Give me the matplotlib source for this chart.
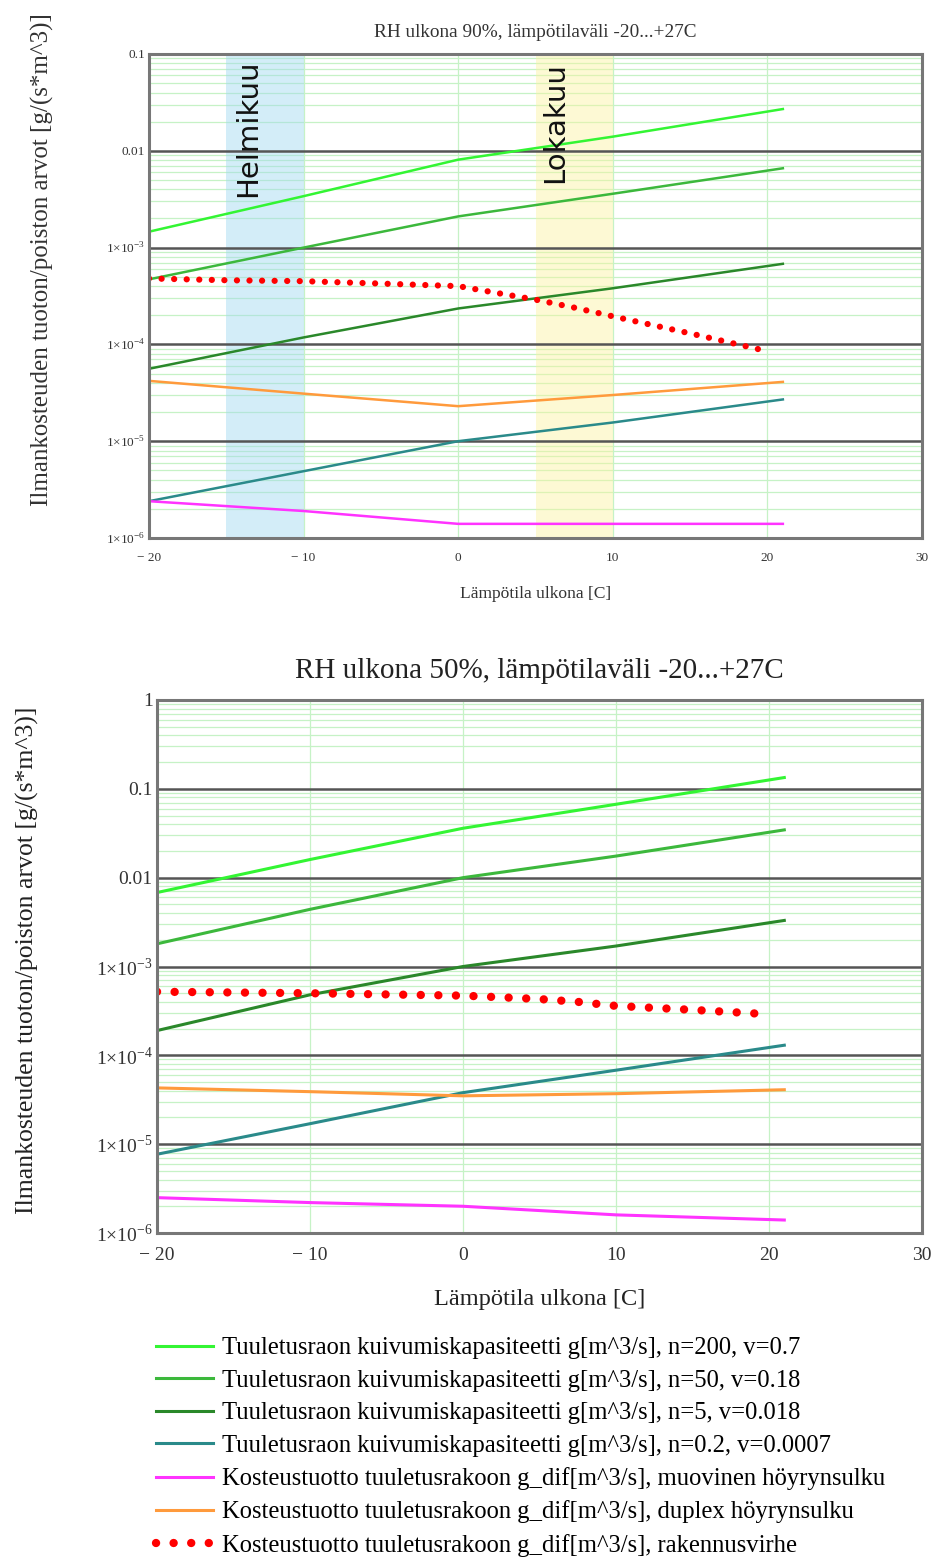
import numpy as np
import matplotlib
matplotlib.use("Agg")
import matplotlib.pyplot as plt
from matplotlib.ticker import LogLocator, NullFormatter

plt.rcParams['font.family'] = ['Liberation Serif', 'DejaVu Serif']
plt.rcParams['mathtext.fontset'] = 'custom'
plt.rcParams['mathtext.rm'] = 'Liberation Serif'

# x-values (outdoor temperature, C)
temps = [-20, -10, 0, 10, 21]
red_temps = [-20, -15, -10, -5, 0, 2.5, 5, 7.5, 10, 15, 20]

# RH 90 %
top_n200 = [1.46e-3, 3.4e-3, 8.1e-3, 1.4e-2, 2.7e-2]
top_n50 = [4.7e-4, 1.0e-3, 2.1e-3, 3.6e-3, 6.6e-3]
top_n5 = [5.6e-5, 1.18e-4, 2.35e-4, 3.8e-4, 6.8e-4]
top_n02 = [2.4e-6, 4.9e-6, 1.0e-5, 1.56e-5, 2.7e-5]
top_muovi = [2.4e-6, 1.9e-6, 1.4e-6, 1.4e-6, 1.4e-6]
top_duplex = [4.2e-5, 3.1e-5, 2.3e-5, 3.0e-5, 4.1e-5]
top_virhe = [4.8e-4, 4.6e-4, 4.5e-4, 4.25e-4, 4.0e-4, 3.4e-4, 2.9e-4, 2.4e-4, 1.95e-4, 1.3e-4, 8.5e-5]

# RH 50 %
bot_n200 = [6.8e-3, 1.6e-2, 3.6e-2, 6.7e-2, 0.134]
bot_n50 = [1.8e-3, 4.4e-3, 1.0e-2, 1.75e-2, 3.45e-2]
bot_n5 = [1.9e-4, 4.8e-4, 1.0e-3, 1.7e-3, 3.3e-3]
bot_n02 = [7.7e-6, 1.7e-5, 3.8e-5, 6.8e-5, 1.3e-4]
bot_muovi = [2.5e-6, 2.2e-6, 2.0e-6, 1.6e-6, 1.4e-6]
bot_duplex = [4.3e-5, 3.9e-5, 3.5e-5, 3.7e-5, 4.1e-5]
bot_virhe = [5.2e-4, 5.1e-4, 5.0e-4, 4.85e-4, 4.7e-4, 4.5e-4, 4.3e-4, 4.0e-4, 3.6e-4, 3.25e-4, 2.9e-4]

labels = [
    'Tuuletusraon kuivumiskapasiteetti g[m^3/s], n=200, v=0.7',
    'Tuuletusraon kuivumiskapasiteetti g[m^3/s], n=50, v=0.18',
    'Tuuletusraon kuivumiskapasiteetti g[m^3/s], n=5, v=0.018',
    'Tuuletusraon kuivumiskapasiteetti g[m^3/s], n=0.2, v=0.0007',
    'Kosteustuotto tuuletusrakoon g_dif[m^3/s], muovinen höyrynsulku',
    'Kosteustuotto tuuletusrakoon g_dif[m^3/s], duplex höyrynsulku',
    'Kosteustuotto tuuletusrakoon g_dif[m^3/s], rakennusvirhe',
]
colors = ['#33f533', '#3cb83c', '#2a882a', '#2a8a8a', '#ff33ff', '#ff9a3c']

x_ticks = [-20, -10, 0, 10, 20, 30]
x_ticklabels = ['\u2212 20', '\u2212 10', '0', '10', '20', '30']
top_yticks = [1e-6, 1e-5, 1e-4, 1e-3, 0.01, 0.1]
top_yticklabels = [r'1$\times$10$^{-6}$', r'1$\times$10$^{-5}$', r'1$\times$10$^{-4}$',
                   r'1$\times$10$^{-3}$', '0.01', '0.1']
bot_yticks = [1e-6, 1e-5, 1e-4, 1e-3, 0.01, 0.1, 1]
bot_yticklabels = [r'1$\times$10$^{-6}$', r'1$\times$10$^{-5}$', r'1$\times$10$^{-4}$',
                   r'1$\times$10$^{-3}$', '0.01', '0.1', '1']

ylabel = 'Ilmankosteuden tuoton/poiston arvot [g/(s*m^3)]'
xlabel = 'Lämpötila ulkona [C]'


def style_axes(ax, yticks, yticklabels, fs, xpad):
    ax.set_yscale('log')
    ax.set_xlim(-20, 30)
    ax.set_ylim(yticks[0], yticks[-1])
    ax.set_xticks(x_ticks)
    ax.set_xticklabels(x_ticklabels)
    ax.set_yticks(yticks)
    ax.set_yticklabels(yticklabels)
    ax.yaxis.set_minor_locator(LogLocator(base=10, subs=np.arange(2, 10)))
    ax.yaxis.set_minor_formatter(NullFormatter())
    ax.tick_params(which='both', length=0, labelsize=fs, colors='#333333', pad=3)
    ax.tick_params(axis='x', pad=xpad)
    ax.set_axisbelow(True)
    ax.grid(True, which='minor', axis='y', color='#c6f2c6', lw=0.9)
    ax.grid(True, which='major', axis='x', color='#c6f2c6', lw=0.9)
    for y in yticks[1:-1]:
        ax.axhline(y, color='#555555', lw=1.8, zorder=1.5)
    for s in ax.spines.values():
        s.set_color('#777777')
        s.set_linewidth(2.2)


fig = plt.figure(figsize=(9.42, 15.59), dpi=100)

# ---- top chart (RH 90 %)
ax1 = fig.add_axes([149 / 942, 1 - 538 / 1559, 773 / 942, 484 / 1559])
style_axes(ax1, top_yticks, top_yticklabels, 9.5, 10)
ax1.axvspan(-15, -10, color='#9fd8f0', alpha=0.45, lw=0, zorder=1)
ax1.axvspan(5, 10, color='#fbf3a0', alpha=0.45, lw=0, zorder=1)
ax1.text(-13.6, 0.088, 'Helmikuu', rotation=90, ha='center', va='top',
         fontsize=21, family='DejaVu Sans', color='#111111', zorder=3)
ax1.text(6.3, 0.082, 'Lokakuu', rotation=90, ha='center', va='top',
         fontsize=21, family='DejaVu Sans', color='#111111', zorder=3)
for vals, c in zip([top_n200, top_n50, top_n5, top_n02, top_muovi, top_duplex], colors):
    ax1.plot(temps, vals, color=c, lw=1.8, zorder=2)
ax1.plot(red_temps, top_virhe, color='#ff0000', lw=4.5, linestyle=(0, (0.01, 2.0)),
         dash_capstyle='round', zorder=2)
ax1.set_title('RH ulkona 90%, lämpötilaväli -20...+27C', fontsize=13.9, pad=12, color='#333333')
ax1.set_xlabel(xlabel, fontsize=12.6, labelpad=16, color='#333333')
fig.text(42 / 942, 1 - 260 / 1559, ylabel, rotation=90, ha='center', va='center',
         fontsize=18, color='#333333')

# ---- bottom chart (RH 50 %)
ax2 = fig.add_axes([157 / 942, 1 - 1233 / 1559, 765 / 942, 533 / 1559])
style_axes(ax2, bot_yticks, bot_yticklabels, 14, 10)
handles = []
for vals, c, lab in zip([bot_n200, bot_n50, bot_n5, bot_n02, bot_muovi, bot_duplex], colors, labels):
    h, = ax2.plot(temps, vals, color=c, lw=2.2, zorder=2, label=lab)
    handles.append(h)
h, = ax2.plot(red_temps, bot_virhe, color='#ff0000', lw=6.0, linestyle=(0, (0.01, 2.1)),
              dash_capstyle='round', zorder=2, label=labels[6])
handles.append(h)
ax2.set_title('RH ulkona 50%, lämpötilaväli -20...+27C', fontsize=21, pad=16, color='#222222')
ax2.set_xlabel(xlabel, fontsize=17.6, labelpad=18, color='#222222')
fig.text(27 / 942, 1 - 960 / 1559, ylabel, rotation=90, ha='center', va='center',
         fontsize=18.5, color='#222222')

fig.legend(handles=handles, loc='upper left', bbox_to_anchor=(156 / 942, 1 - 1337 / 1559),
           frameon=False, fontsize=17.7, handlelength=2.3, labelspacing=0.42,
           handletextpad=0.4, borderaxespad=0, borderpad=0)

fig.savefig('out.png', dpi=100)
